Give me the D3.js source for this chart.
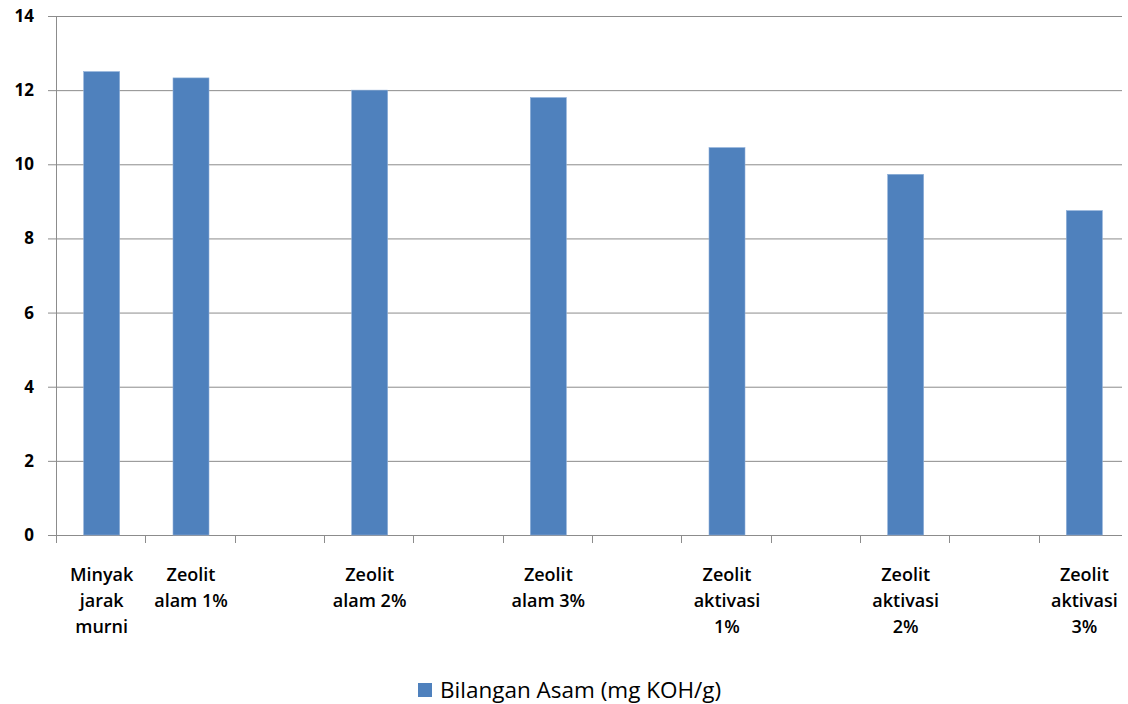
<!DOCTYPE html>
<html>
<head>
<meta charset="utf-8">
<script src="https://cdn.jsdelivr.net/npm/d3@7"></script>
<style>
  body { margin: 0; background: #fff; }
  svg text { font-family: "Open Sans", "Liberation Sans", sans-serif; fill: #000; }
</style>
</head>
<body>
<svg id="chart" width="1128" height="704"></svg>
<script>
// category slots, blank ones are empty in the original sheet
const categories = ["Minyak jarak murni", "Zeolit alam 1%", "", "Zeolit alam 2%", "", "Zeolit alam 3%", "",
                    "Zeolit aktivasi 1%", "", "Zeolit aktivasi 2%", "", "Zeolit aktivasi 3%"];
const labelLines = [["Minyak", "jarak", "murni"], ["Zeolit", "alam 1%"], [], ["Zeolit", "alam 2%"], [],
                    ["Zeolit", "alam 3%"], [], ["Zeolit", "aktivasi", "1%"], [], ["Zeolit", "aktivasi", "2%"], [],
                    ["Zeolit", "aktivasi", "3%"]];
const values = [12.5, 12.33, null, 12.0, null, 11.8, null, 10.45, null, 9.73, null, 8.75];
const yTicks = [0, 2, 4, 6, 8, 10, 12, 14];
const seriesName = "Bilangan Asam (mg KOH/g)";

const svg = d3.select("#chart");
const plotLeft = 56, plotRight = 1128, plotTop = 16, plotBottom = 535;

const x = d3.scaleBand().domain(d3.range(categories.length)).range([plotLeft, plotRight]).paddingInner(0).paddingOuter(0);
const y = d3.scaleLinear().domain([0, 14]).range([plotBottom, plotTop]);

// grid lines
svg.append("g").selectAll("line")
  .data(yTicks)
  .enter().append("line")
  .attr("x1", plotLeft - 8).attr("x2", 1122)
  .attr("y1", d => y(d) + 0.5).attr("y2", d => y(d) + 0.5)
  .attr("stroke", "#8c8c8c").attr("stroke-width", 1);

// y axis line
svg.append("line")
  .attr("x1", plotLeft + 0.5).attr("x2", plotLeft + 0.5)
  .attr("y1", plotTop).attr("y2", plotBottom)
  .attr("stroke", "#8c8c8c");

// y labels
svg.append("g").selectAll("text")
  .data(yTicks)
  .enter().append("text")
  .attr("x", 34).attr("y", d => y(d) + 6)
  .attr("text-anchor", "end")
  .attr("font-size", 17).attr("font-weight", 700)
  .text(d => d);

// x tick marks
svg.append("g").selectAll("line")
  .data(d3.range(categories.length))
  .enter().append("line")
  .attr("x1", d => Math.round(x(d)) + 0.5).attr("x2", d => Math.round(x(d)) + 0.5)
  .attr("y1", plotBottom).attr("y2", plotBottom + 8)
  .attr("stroke", "#8c8c8c");

// bars
const barW = 36;
svg.append("g").selectAll("rect")
  .data(values.map((v, i) => ({ v, i })).filter(d => d.v != null))
  .enter().append("rect")
  .attr("x", d => x(d.i) + x.bandwidth() / 2 - barW / 2 + 1)
  .attr("y", d => y(d.v))
  .attr("width", barW)
  .attr("height", d => plotBottom - y(d.v))
  .attr("fill", "#4f81bd")
  .attr("stroke", "#8fb0d9").attr("stroke-width", 0.6);

// category labels
const lab = svg.append("g").selectAll("text")
  .data(labelLines.map((l, i) => ({ l, i })).filter(d => d.l.length))
  .enter().append("text")
  .attr("text-anchor", "middle")
  .attr("font-size", 18).attr("font-weight", 600);
lab.selectAll("tspan")
  .data(d => d.l.map((t, k) => ({ t, k, i: d.i })))
  .enter().append("tspan")
  .attr("x", d => x(d.i) + x.bandwidth() / 2 + 1)
  .attr("y", d => 581 + d.k * 26)
  .text(d => d.t);

// legend
svg.append("rect").attr("x", 418).attr("y", 683).attr("width", 14).attr("height", 14).attr("fill", "#4f81bd");
svg.append("text").attr("x", 440).attr("y", 698).attr("font-size", 22.5).text(seriesName);
</script>
</body>
</html>
